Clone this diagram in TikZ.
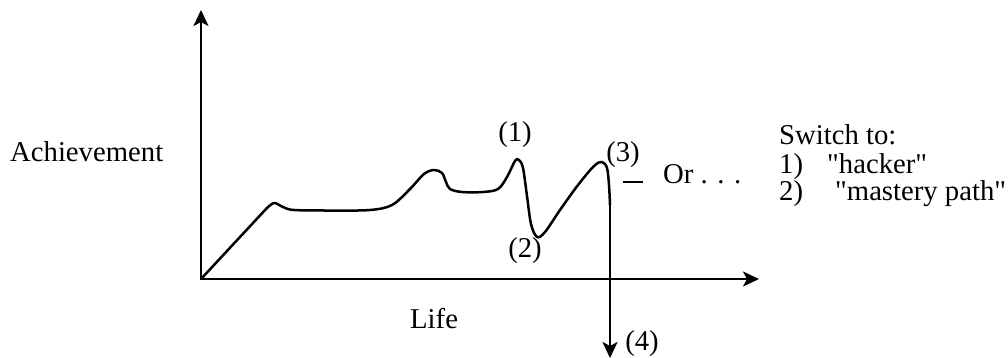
\documentclass[tikz,border=0pt]{standalone}
\usepackage{fontspec}
\setmainfont{Liberation Serif}
\usetikzlibrary{arrows.meta}
\tikzset{
  tip/.style={-{Stealth[length=16pt,width=15pt,inset=4pt]}},
  axis/.style={line width=2.6pt,tip},
  curve/.style={line width=2.5pt,line join=round,line cap=round},
  lbl/.style={inner sep=0pt,font=\fontsize{28.7}{30}\selectfont}
}
\begin{document}
\begin{tikzpicture}[x=1pt,y=-1pt]
\useasboundingbox (0,0) rectangle (1008,358);
\coordinate (O) at (201,279);
\coordinate (Ytop) at (201,10);
\coordinate (Xend) at (759,279);
\draw[axis] (O) -- (Ytop);
\draw[axis] (O) -- (Xend);
% life curve
\coordinate (P0) at (266,209);
\draw[curve] (O) -- (P0);
\draw[curve] plot[smooth,tension=0.55] coordinates{
 (P0) (274,203) (283,207) (294,210) (330,210.5) (370,210) (392,205) (410,189) (424,174) (434,170) (442,173) (446,182) (450,189) (462,192) (483,192) (498,189) (507,177) (515,161) (519,160) (523,168) (527,196) (531,224) (537,237) (545,232) (560,210) (578,185) (594,166) (602,162) (607,168) (609,185) (610,205)};
\coordinate (D0) at (610,204);
\coordinate (D1) at (610,358);
\draw[line width=2.5pt,tip] (D0) -- (D1);
% labels
\node[lbl,anchor=base west] (ach) at (10,162) {Achievement};
\node[lbl,anchor=base west] (life) at (410,328) {Life};
\node[lbl] (l1) at (515,135) {(1)};
\node[lbl] (l2) at (525,251) {(2)};
\node[lbl] (l3) at (623,155) {(3)};
\node[lbl] (l4) at (642,344) {(4)};
\coordinate (da) at (623,182);
\coordinate (db) at (643,182);
\draw[line width=2pt] (da) -- (db);
\node[lbl,anchor=base west] (or) at (663,183) {Or . . .};
\node[lbl,anchor=base west] (sw) at (779,145) {Switch to:};
\node[lbl,anchor=base west] (n1) at (779,173) {1)};
\node[lbl,anchor=base west] (h) at (827,173) {\textquotedbl hacker\textquotedbl};
\node[lbl,anchor=base west] (n2) at (779,200) {2)};
\node[lbl,anchor=base west] (m) at (835,200) {\textquotedbl mastery path\textquotedbl};
\end{tikzpicture}
\end{document}
